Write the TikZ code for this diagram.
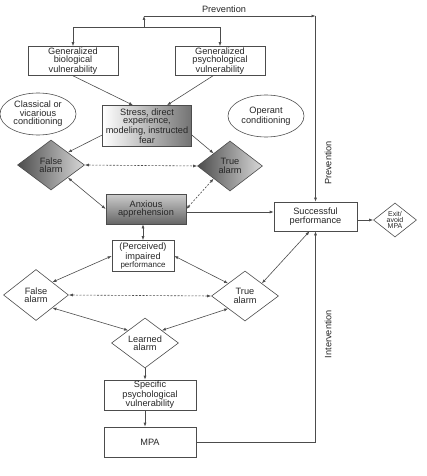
\documentclass[tikz,border=0pt]{standalone}
\usepackage{fontspec}
\setmainfont{Liberation Sans}
\usetikzlibrary{shapes.geometric,arrows.meta}

\begin{document}
\begin{tikzpicture}[x=1pt,y=-1pt,line width=0.6pt,draw=black!70,
		font=\fontsize{9.2}{8.4}\selectfont,
		every node/.style={align=center,inner sep=0pt,text=black!85},
		box/.style={draw=black!70,rectangle},
		shadedbox/.style={box,shading=axis},
		oval/.style={draw=black!70,ellipse},
		alarm/.style={draw=black!70,diamond,aspect=1.3},
		shadedalarm/.style={alarm,left color=black!70,right color=black!15},
		arr/.style={-{Latex[length=4pt,width=3pt]}},
		both/.style={{Latex[length=4pt,width=3pt]}-{Latex[length=4pt,width=3pt]}},
		dash line/.style={dash pattern=on 2pt off 1.5pt}]
		\useasboundingbox (0,0) rectangle (426,476);
		% top row
		\node[box, minimum width=90, minimum height=29] (bio) at (73,61) {Generalized\\biological\\vulnerability};
		\node[box, minimum width=90, minimum height=29] (psych) at (220,61) {Generalized\\psychological\\vulnerability};
		\node[oval, minimum width=76, minimum height=42] (classical) at (38,114) {Classical or\\vicarious\\conditioning};
		\node[oval, minimum width=76, minimum height=42] (operant) at (266,116) {Operant\\conditioning};
		\node[shadedbox, left color=white, right color=black!55, minimum width=89, minimum height=41] (stress) at (147,126) {Stress, direct\\experience,\\modeling, instructed\\fear};
		% upper alarms
		\node[shadedalarm, minimum width=67, minimum height=50] (fa1) at (51,165) {False\\alarm};
		\node[shadedalarm, minimum width=65, minimum height=50] (ta1) at (230,166) {True\\alarm};
		\node[shadedbox, top color=black!20, bottom color=black!60, minimum width=80, minimum height=30] (anx) at (146,209) {Anxious\\apprehension};
		\node[box, minimum width=83, minimum height=29] (sp) at (315.5,216.5) {Successful\\performance};
		\node[alarm, minimum width=43, minimum height=34, font=\fontsize{7}{6}\selectfont] (exit) at (395,220) {Exit/\\avoid\\MPA};
		% lower alarms
		\node[box, minimum width=62, minimum height=31] (imp) at (143,256) {(Perceived)\\impaired\\{\fontsize{8}{8.4}\selectfont performance}};
		\node[alarm, minimum width=65, minimum height=51] (fa2) at (36,295) {False\\alarm};
		\node[alarm, minimum width=67, minimum height=50] (ta2) at (245,296) {True\\alarm};
		\node[alarm, minimum width=67, minimum height=50] (la) at (145,343) {Learned\\alarm};
		\node[box, minimum width=92, minimum height=30] (spec) at (150,395) {Specific\\psychological\\vulnerability};
		\node[box, minimum width=92, minimum height=30] (mpa) at (150,442) {MPA};
		% labels
		\node (prevtop) at (224,9) {Prevention};
		\node[rotate=90] (prevside) at (328,163) {Prevention};
		\node[rotate=90] (interv) at (328,334) {Intervention};
		% prevention loop
		\coordinate (bar) at (144,27);
		\coordinate (prev) at (144,16);
		\coordinate (corner) at (sp.north |- prev);
		\draw[arr] (bar) -| (bio.north);
		\draw[arr] (bar) -| (psych.north);
		\draw[arr] (bar) -- (prev);
		\draw[arr] (prev) -- (corner);
		\draw[arr] (corner) -- (sp.north);
		% vulnerabilities to stress
		\draw[arr] (bio.south) -- ([xshift=-14]stress.north);
		\draw[arr] ([xshift=-7]psych.south) -- ([xshift=20]stress.north);
		\draw[arr] ([yshift=-9]stress.west) -- (fa1.north east);
		\draw[arr] ([yshift=-9]stress.east) -- (ta1.north west);
		\draw[both, dash line] (fa1.east) -- (ta1.west);
		\draw[both] (fa1.south east) -- (anx.west);
		\draw[both, dash line] (ta1.south west) -- (anx.east);
		\draw[arr] ([yshift=-3]anx.east) -- ([yshift=-3]anx.east -| sp.west);
		\draw[arr] (sp.east |- exit.west) -- (exit.west);
		% impaired performance loop
		\draw[both] (imp.north |- anx.south) -- (imp.north);
		\draw[both] (imp.west) -- (fa2.north east);
		\draw[both] (imp.east) -- (ta2.north west);
		\draw[both, dash line] (fa2.east) -- (ta2.west);
		\draw[both] (fa2.south east) -- (la.north west);
		\draw[both] (ta2.south west) -- (la.north east);
		\draw[both] ([xshift=-6]sp.south) -- (ta2.north east);
		% learned alarm to MPA
		\draw[arr] (la.south) -- (la.south |- spec.north);
		\draw[arr] (la.south |- spec.south) -- (la.south |- mpa.north);
		\draw[arr] (mpa.east) -| (sp.south);
	\end{tikzpicture}
\end{document}
